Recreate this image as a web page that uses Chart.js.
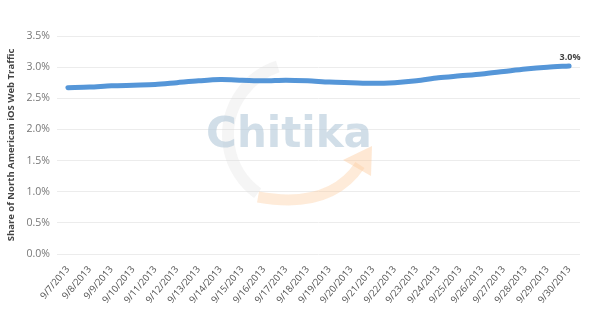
<!DOCTYPE html>
<html>
<head>
<meta charset="utf-8">
<script src="https://cdn.jsdelivr.net/npm/chart.js@4"></script>
<style>
  html, body { margin: 0; padding: 0; background: #fff; }
  #wrap { width: 590px; height: 314px; position: relative; }
</style>
</head>
<body>
<div id="wrap"><canvas id="shareChart"></canvas></div>
<script>
/* global Chart */

const dates = [
  '9/7/2013', '9/8/2013', '9/9/2013', '9/10/2013', '9/11/2013', '9/12/2013',
  '9/13/2013', '9/14/2013', '9/15/2013', '9/16/2013', '9/17/2013', '9/18/2013',
  '9/19/2013', '9/20/2013', '9/21/2013', '9/22/2013', '9/23/2013', '9/24/2013',
  '9/25/2013', '9/26/2013', '9/27/2013', '9/28/2013', '9/29/2013', '9/30/2013',
];

const iosShare = [
  2.67, 2.68, 2.70, 2.71, 2.72, 2.75, 2.78, 2.80, 2.79, 2.78, 2.79, 2.78,
  2.76, 2.75, 2.74, 2.75, 2.78, 2.83, 2.86, 2.89, 2.93, 2.97, 3.00, 3.02,
];

const lastLabel = '3.0%';
const yTitle = 'Share of North American iOS Web Traffic';
const watermarkText = 'Chitika';

// faint logo behind the plot
const watermark = {
  id: 'watermark',
  beforeDatasetsDraw(chart) {
    const { ctx } = chart;
    ctx.save();
    // grey globe arc
    ctx.strokeStyle = 'rgba(215, 215, 215, 0.25)';
    ctx.lineWidth = 12;
    ctx.beginPath();
    ctx.arc(300, 135, 72, Math.PI * 0.7, Math.PI * 1.4);
    ctx.stroke();
    // orange swoosh
    ctx.strokeStyle = 'rgba(252, 205, 160, 0.4)';
    ctx.lineWidth = 11;
    ctx.beginPath();
    ctx.moveTo(258, 197);
    ctx.quadraticCurveTo(330, 210, 360, 165);
    ctx.stroke();
    ctx.fillStyle = 'rgba(252, 205, 160, 0.45)';
    ctx.beginPath();
    ctx.moveTo(343, 160);
    ctx.lineTo(372, 146);
    ctx.lineTo(371, 176);
    ctx.closePath();
    ctx.fill();
    // name
    ctx.font = 'bold 42px "DejaVu Sans", sans-serif';
    ctx.fillStyle = 'rgba(185, 205, 220, 0.65)';
    ctx.textAlign = 'center';
    ctx.textBaseline = 'alphabetic';
    ctx.fillText(watermarkText, 289, 147);
    ctx.restore();
  },
};

const endLabel = {
  id: 'endLabel',
  afterDatasetsDraw(chart) {
    const meta = chart.getDatasetMeta(0);
    const pt = meta.data[meta.data.length - 1];
    const { ctx } = chart;
    ctx.save();
    ctx.font = 'bold 9px "Open Sans", sans-serif';
    ctx.fillStyle = '#444';
    ctx.textAlign = 'center';
    ctx.textBaseline = 'bottom';
    ctx.fillText(lastLabel, pt.x + 1, pt.y - 4);
    ctx.restore();
  },
};

new Chart(document.getElementById('shareChart'), {
  type: 'line',
  data: {
    labels: dates,
    datasets: [
      {
        label: 'iOS share',
        data: iosShare,
        borderColor: '#5596d8',
        borderWidth: 5,
        pointRadius: 0,
        tension: 0.3,
        fill: false,
        borderCapStyle: 'round',
      },
    ],
  },
  options: {
    responsive: true,
    maintainAspectRatio: false,
    animation: false,
    layout: { padding: { left: 6, right: 10, top: 36, bottom: 0 } },
    plugins: {
      legend: { display: false },
      tooltip: { enabled: false },
    },
    scales: {
      x: {
        offset: true,
        grid: { display: false },
        border: { display: false },
        ticks: {
          autoSkip: false,
          maxRotation: 50,
          minRotation: 50,
          color: '#555',
          padding: 2,
          font: { family: 'Open Sans', size: 9.5 },
        },
        afterFit(scale) { scale.height = 60; },
      },
      y: {
        min: 0,
        max: 3.5,
        border: { display: false },
        grid: { color: '#ececec', drawTicks: false },
        ticks: {
          stepSize: 0.5,
          color: '#777',
          padding: 7,
          font: { family: 'Open Sans', size: 10.5 },
          callback: (v) => `${v.toFixed(1)}%`,
        },
        title: {
          display: true,
          text: yTitle,
          color: '#444',
          padding: { top: 0, bottom: 3 },
          font: { family: 'Open Sans', size: 9.5, weight: 'bold' },
        },
        afterFit(scale) { scale.width = 51; },
      },
    },
  },
  plugins: [watermark, endLabel],
});
</script>
</body>
</html>
